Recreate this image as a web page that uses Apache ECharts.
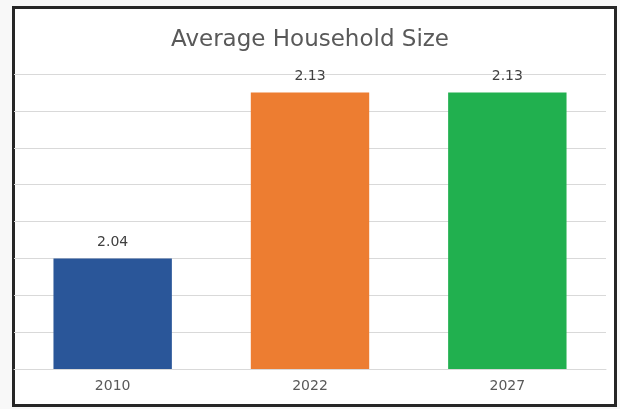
<!DOCTYPE html>
<html>
<head>
<meta charset="utf-8">
<script src="https://cdn.jsdelivr.net/npm/echarts@6/dist/echarts.min.js"></script>
<style>
  html, body { margin: 0; padding: 0; background: #f8f8f8; }
  #chart { width: 620px; height: 409px; }
</style>
</head>
<body>
<div id="chart"></div>
<script>
const YEARS = ["2010", "2022", "2027"];
const AVG_SIZE = [2.04, 2.13, 2.13];
const BAR_COLORS = ["#2A5699", "#ED7D31", "#21B04F"];

const chart = echarts.init(document.getElementById("chart"));

const option = {
  animation: false,
  backgroundColor: "#f8f8f8",
  title: {
    text: "Average Household Size",
    left: "center",
    top: 24,
    textStyle: {
      fontFamily: "DejaVu Sans",
      fontWeight: "normal",
      fontSize: 23,
      color: "#595959"
    }
  },
  grid: { left: 14, right: 14, top: 74, bottom: 40, containLabel: false },
  xAxis: {
    type: "category",
    data: YEARS,
    axisLine: { lineStyle: { color: "#d9d9d9", width: 1 } },
    axisTick: { show: false },
    axisLabel: {
      color: "#595959",
      fontFamily: "DejaVu Sans",
      fontSize: 14,
      margin: 10
    }
  },
  yAxis: {
    type: "value",
    min: 1.98,
    max: 2.14,
    interval: 0.02,
    axisLine: { show: false },
    axisTick: { show: false },
    axisLabel: { show: false },
    splitLine: { lineStyle: { color: "#d9d9d9", width: 1 } }
  },
  series: [{
    type: "bar",
    barWidth: "60%",
    data: AVG_SIZE.map((v, i) => ({ value: v, itemStyle: { color: BAR_COLORS[i] } })),
    label: {
      show: true,
      position: "top",
      distance: 9,
      color: "#404040",
      fontFamily: "DejaVu Sans",
      fontSize: 14,
      formatter: p => p.value.toFixed(2)
    }
  }],
  graphic: [{
    type: "rect",
    z: -10,
    shape: { x: 13.5, y: 7.5, width: 602, height: 398 },
    style: { fill: "#ffffff", stroke: "#262626", lineWidth: 3 },
    silent: true
  }]
};

chart.setOption(option);
</script>
</body>
</html>
